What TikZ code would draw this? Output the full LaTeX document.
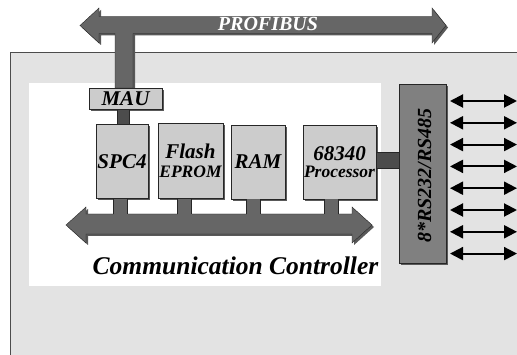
\documentclass[tikz,border=0pt]{standalone}
\usepackage{fontspec}
\setmainfont{Liberation Serif}[BoldItalicFont={Liberation Serif Bold Italic}]
\usetikzlibrary{positioning,calc,shadows,arrows.meta}

\tikzset{
  shade3d/.style={drop shadow={shadow xshift=2pt,shadow yshift=-2pt,fill=black!65,opacity=1}},
  chip/.style={draw=black!85, fill=black!20, inner sep=0pt, align=center,
    font=\bfseries\itshape\fontsize{21}{18}\selectfont, shade3d},
  bus/.style={draw=black!85, fill=black!60, line join=miter, shade3d},
  link/.style={draw=black!85, fill=black!70},
  port/.style={line width=2pt, {Triangle[length=13pt,width=13pt]}-{Triangle[length=13pt,width=13pt]}}
}

\begin{document}
\begin{tikzpicture}[x=1pt,y=-1pt]
  \useasboundingbox (0,0) rectangle (517,355);
  % board and controller area
  \fill[black!11] (10,52) rectangle (517,355);
  \draw[black!70] (10,355) -- (10,52) -- (517,52);
  \fill[white] (29,83) rectangle (381,286);

  % PROFIBUS with stem down to the MAU
  \coordinate (stem) at (124,88);
  \draw[bus] (80,25.5) -- (99,8) -- (99,16.5) -- (432,16.5) -- (432,8) -- (446,25.5)
    -- (432,43) -- (432,33.5) -- ($(stem)+(9,-54.5)$) -- ($(stem)+(9,0)$)
    -- ($(stem)+(-9,0)$) -- ($(stem)+(-9,-54.5)$) -- (99,33.5) -- (99,43) -- cycle;
  \node[font=\bfseries\itshape\fontsize{20}{20}\selectfont, text=white] (profi) at (268,24) {PROFIBUS};

  % modules
  \node[chip, anchor=north, minimum width=73, minimum height=21] (mau) at (125.5,88) {MAU};
  \node[chip, minimum width=52, minimum height=74] (spc) at (122,161.5) {SPC4};
  \node[chip, minimum width=65, minimum height=75] (flash) at (190.5,161)
    {Flash\\[1pt]{\fontsize{17.5}{17}\selectfont EPROM}};
  \node[chip, minimum width=54, minimum height=74] (ram) at (258,162) {RAM};
  \node[chip, minimum width=73, minimum height=74] (cpu) at (339.5,162)
    {68340\\[-1pt]{\fontsize{17.5}{17}\selectfont Processor}};
  \draw[link] ($(mau.south)+(-8.5,0)$) rectangle ($(mau.south |- spc.north)+(3.5,0)$);

  % internal bus
  \coordinate (bustop) at (0,214);
  \draw[bus] (66,225) -- (86,207) -- (86,214) -- (352,214) -- (352,207) -- (372,225)
    -- (352,243) -- (352,234) -- (86,234) -- (86,243) -- cycle;
  \foreach \n/\dx in {spc/-1.5,flash/-6,ram/-4.5,cpu/-8.5}{
    \coordinate (sl) at ($(\n.south)+(\dx-7,0)$);
    \coordinate (sr) at ($(\n.south)+(\dx+7,0)$);
    \fill[black!60] (sl) rectangle ($(sr |- bustop)+(0,1)$);
    \draw[black!85] (sl) -- (sl |- bustop) (sr) -- (sr |- bustop);
  }
  \node[font=\bfseries\itshape\fontsize{25.5}{25.5}\selectfont, anchor=base] (cc) at (235.5,275)
    {Communication Controller};

  % serial interfaces
  \node[chip, fill=black!50, minimum width=47, minimum height=179] (rs) at (422.5,173.5) {};
  \node[rotate=90, inner sep=0pt, font=\bfseries\itshape\fontsize{20}{20}\selectfont] (rslbl)
    at ($(rs.center)+(2,2)$) {8*RS232/RS485};
  \draw[link] ($(cpu.east)+(0,-10)$) rectangle ($(rs.west |- cpu.east)+(0,6)$);
  \foreach \i in {0,...,7}{
    \coordinate (p\i) at (450,101+21.8*\i);
    \coordinate (q\i) at (517,101+21.8*\i);
    \draw[port] (p\i) -- (q\i);
  }
\end{tikzpicture}
\end{document}
